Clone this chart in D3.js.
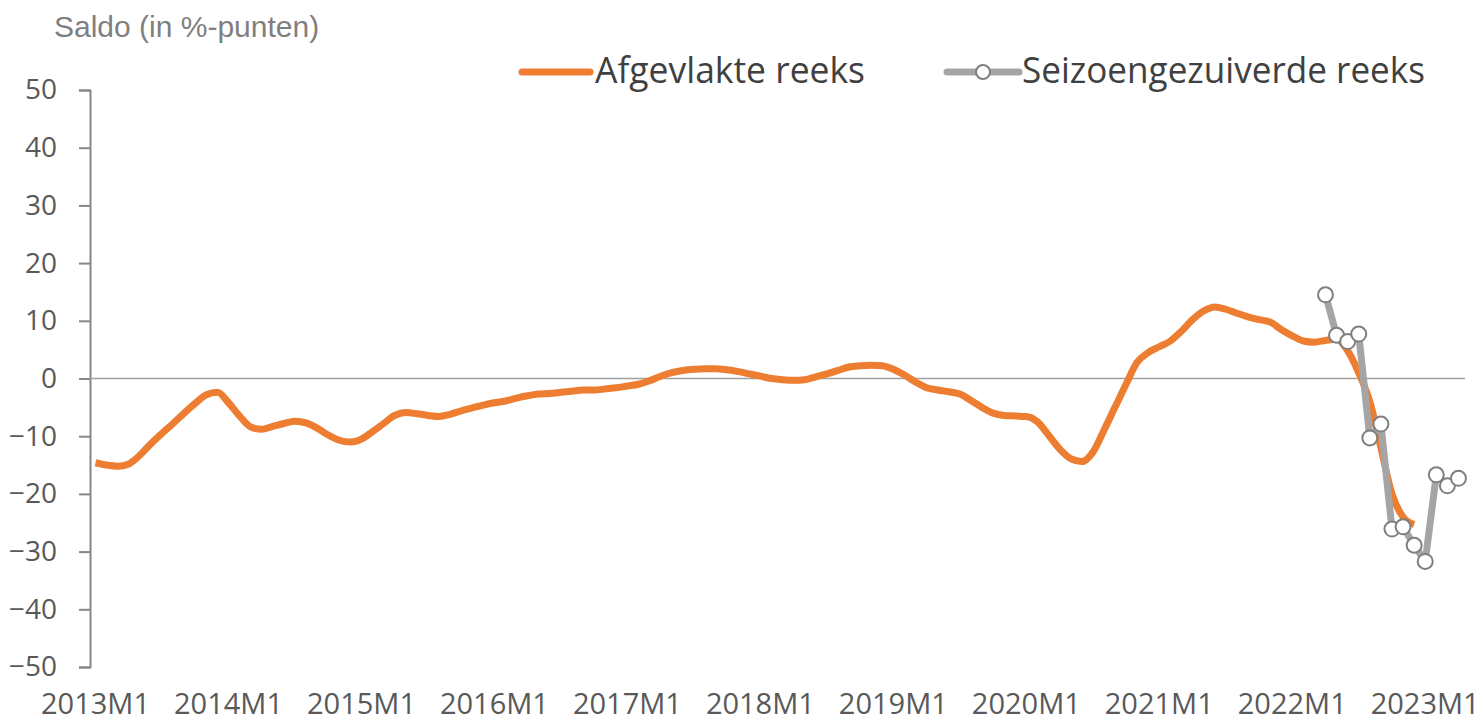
<!DOCTYPE html>
<html>
<head>
<meta charset="utf-8">
<script src="https://cdn.jsdelivr.net/npm/d3@7"></script>
<style>
  body { margin: 0; background: #fff; }
  svg { display: block; }
  .tick text { font-family: "Open Sans", sans-serif; font-size: 28px; fill: #595959; }
  .tick line { stroke: #868686; stroke-width: 2; }
</style>
</head>
<body>
<svg id="chart"></svg>
<script>
const width = 1484;
const height = 723;

// maanden 2013M1 .. 2023M4
const years = [2013, 2014, 2015, 2016, 2017, 2018, 2019, 2020, 2021, 2022, 2023];
const months = [];
years.forEach(yr => {
    for (let m = 1; m <= 12; m++) {
        if (yr === 2023 && m > 4) break;
        months.push(`${yr}M${m}`);
    }
});

const yTicks = [50, 40, 30, 20, 10, 0, -10, -20, -30, -40, -50];

// Afgevlakte reeks, 2013M1 .. 2022M12
const afgevlakt = [
    -14.6, -15.0, -15.2, -14.8, -13.3, -11.3, -9.5, -7.8, -6.0, -4.3, -2.8, -2.4,
    -4.2, -6.5, -8.4, -8.8, -8.3, -7.8, -7.4, -7.7, -8.6, -9.8, -10.7, -11.0,
    -10.5, -9.2, -7.8, -6.4, -5.9, -6.1, -6.4, -6.6, -6.2, -5.6, -5.1, -4.6,
    -4.2, -3.9, -3.4, -3.0, -2.7, -2.6, -2.4, -2.2, -2.0, -2.0, -1.8, -1.6,
    -1.3, -1.0, -0.4, 0.4, 1.0, 1.4, 1.6, 1.7, 1.7, 1.5, 1.2, 0.8,
    0.4, 0.0, -0.2, -0.3, -0.2, 0.3, 0.8, 1.4, 2.0, 2.2, 2.3, 2.2,
    1.6, 0.6, -0.6, -1.6, -2.0, -2.3, -2.7, -3.8, -5.0, -6.0, -6.4, -6.5,
    -6.6, -7.5, -9.8, -12.2, -13.9, -14.4, -12.8, -9.0, -5.0, -1.0, 2.8, 4.5,
    5.5, 6.5, 8.2, 10.2, 11.7, 12.4, 12.0, 11.3, 10.7, 10.2, 9.8, 8.5,
    7.4, 6.5, 6.3, 6.6, 6.8, 4.8, 1.0, -4.0, -12.0, -20.0, -24.0, -25.3
];

// Seizoengezuiverde reeks, 2022M4 .. 2023M4
const seizoenStart = "2022M4";
const seizoen = [14.5, 7.5, 6.4, 7.7, -10.3, -7.9, -26.1, -25.7, -28.9, -31.7, -16.7, -18.6, -17.3];

const svg = d3.select("#chart")
    .attr("width", width)
    .attr("height", height);

const x = d3.scalePoint()
    .domain(months)
    .range([90, 1464])
    .padding(0.5);

const y = d3.scaleLinear()
    .domain([-50, 50])
    .range([667, 90]);

// titel
svg.append("text")
    .attr("x", 54)
    .attr("y", 37)
    .style("font-family", "'Liberation Sans', Arial, sans-serif")
    .style("font-size", "30px")
    .style("fill", "#7f7f7f")
    .text("Saldo (in %-punten)");

// y-as
const yAxis = svg.append("g")
    .attr("transform", "translate(90,0)")
    .call(d3.axisLeft(y).tickValues(yTicks).tickSize(11).tickPadding(22).tickFormat(d3.format("d")));
yAxis.select(".domain").attr("stroke", "#868686").attr("stroke-width", 2);

// nullijn
svg.append("line")
    .attr("x1", 90).attr("x2", 1465)
    .attr("y1", y(0)).attr("y2", y(0))
    .attr("stroke", "#a0a0a0")
    .attr("stroke-width", 1.5);

// x-labels
svg.append("g")
    .selectAll("text")
    .data(months.filter(m => m.endsWith("M1")))
    .enter()
    .append("text")
    .attr("x", d => x(d))
    .attr("y", 714)
    .attr("text-anchor", "middle")
    .style("font-family", "'Open Sans', sans-serif")
    .style("font-size", "29px")
    .style("fill", "#595959")
    .text(d => d);

const orangeData = afgevlakt.map((v, i) => ({ m: months[i], v }));
const s0 = months.indexOf(seizoenStart);
const grayData = seizoen.map((v, i) => ({ m: months[s0 + i], v }));

svg.append("path")
    .datum(orangeData)
    .attr("fill", "none")
    .attr("stroke", "#ed7d31")
    .attr("stroke-width", 7)
    .attr("stroke-linejoin", "round")
    .attr("d", d3.line().x(d => x(d.m)).y(d => y(d.v)).curve(d3.curveMonotoneX));

svg.append("path")
    .datum(grayData)
    .attr("fill", "none")
    .attr("stroke", "#a5a5a5")
    .attr("stroke-width", 7)
    .attr("stroke-linejoin", "round")
    .attr("d", d3.line().x(d => x(d.m)).y(d => y(d.v)));

svg.append("g")
    .selectAll("circle")
    .data(grayData)
    .enter()
    .append("circle")
    .attr("cx", d => x(d.m))
    .attr("cy", d => y(d.v))
    .attr("r", 7.5)
    .attr("fill", "#fff")
    .attr("stroke", "#7f7f7f")
    .attr("stroke-width", 2);

// legenda
const legend = svg.append("g").style("font-family", "'Open Sans', sans-serif").style("font-size", "36px").style("fill", "#404040");

legend.append("line")
    .attr("x1", 522).attr("x2", 590).attr("y1", 72).attr("y2", 72)
    .attr("stroke", "#ed7d31").attr("stroke-width", 7).attr("stroke-linecap", "round");
legend.append("text").attr("x", 595).attr("y", 83)
    .attr("textLength", 270).attr("lengthAdjust", "spacingAndGlyphs")
    .text("Afgevlakte reeks");

legend.append("line")
    .attr("x1", 947).attr("x2", 1019).attr("y1", 72).attr("y2", 72)
    .attr("stroke", "#a5a5a5").attr("stroke-width", 7).attr("stroke-linecap", "round");
legend.append("circle")
    .attr("cx", 983).attr("cy", 72).attr("r", 7)
    .attr("fill", "#fff").attr("stroke", "#7f7f7f").attr("stroke-width", 2);
legend.append("text").attr("x", 1022).attr("y", 83)
    .attr("textLength", 403).attr("lengthAdjust", "spacingAndGlyphs")
    .text("Seizoengezuiverde reeks");
</script>
</body>
</html>
